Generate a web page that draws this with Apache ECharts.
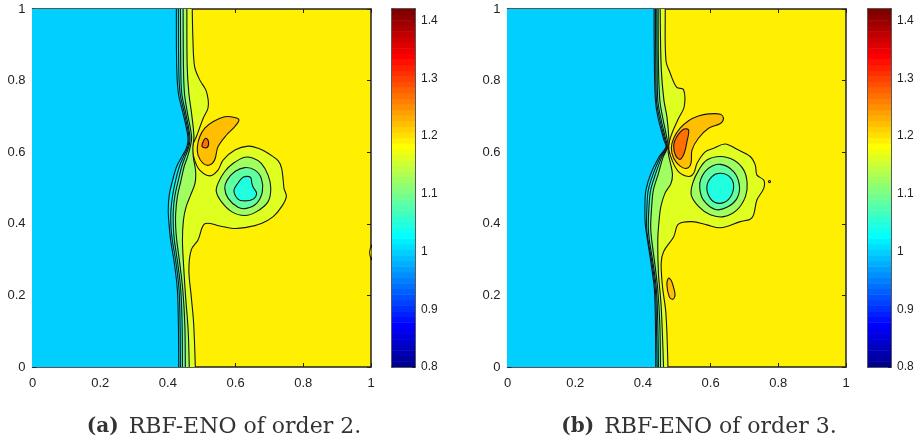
<!DOCTYPE html>
<html>
<head>
<meta charset="utf-8">
<title>RBF-ENO</title>
<style>
  html, body { margin: 0; padding: 0; background: #fff; }
  #chart { width: 921px; height: 440px; }
</style>
<script src="https://cdn.jsdelivr.net/npm/echarts@6/dist/echarts.min.js"></script>
</head>
<body>
<div id="chart"></div>
<script>
// contour levels as [x, y]
const aFront1 = [[.472,1],[.474,.913],[.479,.839],[.494,.802],[.512,.774],[.519,.746],[.518,.722],[.504,.694],[.484,.643],[.472,.615],[.479,.578],[.494,.55],[.524,.534],[.548,.55],[.563,.578],[.598,.606],[.637,.617],[.667,.611],[.696,.597],[.726,.576],[.736,.555],[.741,.518],[.743,.499],[.75,.476],[.736,.448],[.711,.42],[.676,.401],[.632,.39],[.593,.387],[.553,.394],[.509,.4],[.489,.355],[.469,.327],[.462,.271],[.469,.197],[.476,.122],[.481,0]]
const aFront2 = [[.456,1],[.457,.839],[.462,.764],[.47,.708],[.477,.643],[.474,.615],[.475,.587],[.482,.546],[.48,.513],[.467,.48],[.454,.448],[.446,.411],[.443,.355],[.446,.29],[.452,.2],[.46,.1],[.463,0]]
const aFront3 = [[.445,1],[.446,.839],[.449,.764],[.458,.708],[.47,.643],[.466,.615],[.458,.587],[.448,.56],[.438,.518],[.428,.476],[.423,.429],[.423,.392],[.426,.355],[.435,.29],[.444,.215],[.45,.12],[.4515,0]]
const aFront4 = [[.437,1],[.438,.839],[.441,.764],[.453,.708],[.465,.643],[.462,.615],[.451,.587],[.441,.56],[.431,.522],[.421,.48],[.416,.438],[.416,.392],[.419,.355],[.429,.29],[.438,.215],[.442,.12],[.443,0]]
const aFront5 = [[.431,1],[.432,.839],[.436,.764],[.449,.708],[.462,.643],[.459,.615],[.446,.587],[.434,.56],[.423,.522],[.414,.48],[.409,.438],[.409,.392],[.413,.355],[.424,.29],[.433,.215],[.436,.12],[.437,0]]
const aFront6 = [[.425,1],[.426,.839],[.431,.764],[.445,.708],[.459,.643],[.456,.615],[.441,.587],[.426,.56],[.414,.522],[.404,.48],[.401,.438],[.404,.392],[.408,.355],[.419,.29],[.428,.215],[.431,.12],[.432,0]]
const aOrange = [[.61,.69],[.597,.697],[.568,.699],[.533,.685],[.509,.667],[.494,.643],[.487,.615],[.489,.592],[.504,.569],[.523,.564],[.538,.578],[.548,.615],[.573,.648],[.597,.671]]
const aCore = [[.512,.639],[.502,.625],[.502,.615],[.516,.613],[.52,.629]]
const aVortex1 = [[.627,.586],[.593,.569],[.568,.546],[.548,.513],[.543,.49],[.558,.462],[.588,.434],[.627,.423],[.662,.434],[.696,.462],[.704,.499],[.696,.536],[.676,.569],[.652,.583]]
const aVortex2 = [[.627,.557],[.598,.546],[.575,.522],[.568,.499],[.578,.471],[.607,.446],[.632,.443],[.662,.457],[.679,.49],[.676,.527],[.657,.55]]
const aVortex3 = [[.622,.53],[.644,.53],[.648,.513],[.652,.502],[.662,.485],[.652,.469],[.627,.464],[.607,.469],[.595,.493],[.605,.511]]
const aEdge = [[1.002,.3],[.996,.32],[1.002,.34]]

const bFront1 = [[.466,1],[.468,.857],[.481,.82],[.5,.781],[.52,.775],[.522,.727],[.505,.694],[.486,.653],[.476,.615],[.486,.578],[.505,.546],[.535,.532],[.55,.541],[.56,.569],[.584,.601],[.609,.611],[.643,.623],[.678,.608],[.717,.588],[.732,.564],[.737,.536],[.757,.522],[.757,.499],[.737,.467],[.727,.425],[.717,.413],[.688,.406],[.629,.389],[.589,.397],[.545,.406],[.505,.399],[.491,.364],[.461,.322],[.454,.29],[.458,.224],[.468,.15],[.474,0]]
const bFront2 = [[.451,1],[.454,.839],[.462,.746],[.471,.699],[.477,.634],[.476,.615],[.475,.597],[.487,.541],[.483,.513],[.465,.485],[.453,.448],[.448,.411],[.444,.355],[.446,.262],[.454,.169],[.461,0]]
const bFront3 = [[.445,1],[.446,.839],[.45,.746],[.458,.699],[.472,.634],[.474,.615],[.46,.587],[.446,.541],[.431,.494],[.426,.448],[.423,.392],[.426,.355],[.435,.29],[.444,.215],[.45,.12],[.452,0]]
const bFront4 = [[.441,1],[.442,.839],[.444,.746],[.452,.699],[.468,.634],[.472,.615],[.456,.587],[.438,.541],[.423,.494],[.418,.448],[.416,.392],[.419,.355],[.43,.29],[.44,.215],[.444,.12],[.446,0]]
const bFront5 = [[.437,1],[.438,.839],[.44,.746],[.448,.699],[.465,.634],[.47,.615],[.452,.587],[.431,.541],[.416,.494],[.412,.448],[.411,.392],[.415,.355],[.427,.29],[.437,.215],[.44,.12],[.442,0]]
const bFront6 = [[.433,1],[.434,.839],[.437,.746],[.444,.699],[.462,.634],[.468,.615],[.448,.587],[.424,.541],[.409,.494],[.406,.448],[.407,.4],[.412,.364],[.424,.29],[.434,.215],[.437,.12],[.438,0]]
const bOrange = [[.638,.694],[.629,.706],[.594,.707],[.564,.701],[.535,.688],[.51,.667],[.491,.639],[.484,.611],[.491,.583],[.51,.561],[.53,.555],[.542,.569],[.545,.606],[.564,.639],[.594,.667],[.629,.68]]
const bCore = [[.535,.662],[.52,.664],[.5,.643],[.491,.62],[.496,.592],[.51,.58],[.522,.597],[.53,.629]]
const bSmall = [[.476,.248],[.471,.229],[.478,.196],[.488,.189],[.495,.201],[.49,.224],[.484,.241]]
const bSpeck = [[.771,.518],[.774,.521],[.777,.518],[.774,.515]]
const bVortex1 = [[.629,.588],[.589,.578],[.565,.55],[.547,.513],[.543,.48],[.565,.448],[.599,.425],[.639,.42],[.678,.439],[.703,.476],[.708,.513],[.698,.55],[.668,.578]]
const bVortex2 = [[.629,.566],[.594,.555],[.572,.527],[.568,.499],[.579,.466],[.614,.44],[.648,.446],[.678,.471],[.685,.508],[.668,.546]]
const bVortex3 = [[.629,.541],[.604,.532],[.589,.504],[.599,.471],[.624,.457],[.653,.468],[.668,.502],[.658,.53]]

const axisTicks = [0, 0.2, 0.4, 0.6, 0.8, 1]
const barTicks = [0.8, 0.9, 1, 1.1, 1.2, 1.3, 1.4]
const barEdges = [.8,.8097,.8194,.8291,.8388,.8484,.8581,.8678,.8775,.8872,.8969,.9066,.9163,.9259,.9356,.9453,.955,.9647,.9744,.9841,.9938,1.0034,1.0131,1.0228,1.0325,1.0422,1.0519,1.0616,1.0713,1.0809,1.0906,1.1003,1.11,1.1197,1.1294,1.1391,1.1488,1.1584,1.1681,1.1778,1.1875,1.1972,1.2069,1.2166,1.2263,1.2359,1.2456,1.2553,1.265,1.2747,1.2844,1.2941,1.3038,1.3134,1.3231,1.3328,1.3425,1.3522,1.3619,1.3716,1.3813,1.3909,1.4006,1.4103,1.42]
const barColors = ['#000090','#0000a0','#0000b0','#0000bf','#0000cf','#0000df','#0000ef','#0000ff','#0010ff','#0020ff','#0030ff','#0040ff','#0050ff','#0060ff','#0070ff','#0080ff','#008fff','#009fff','#00afff','#00bfff','#00cfff','#00dfff','#00efff','#00ffff','#10ffef','#20ffdf','#30ffcf','#40ffbf','#50ffaf','#60ff9f','#70ff8f','#80ff80','#8fff70','#9fff60','#afff50','#bfff40','#cfff30','#dfff20','#efff10','#ffff00','#ffef00','#ffdf00','#ffcf00','#ffbf00','#ffaf00','#ff9f00','#ff8f00','#ff8000','#ff7000','#ff6000','#ff5000','#ff4000','#ff3000','#ff2000','#ff1000','#ff0000','#ef0000','#df0000','#cf0000','#bf0000','#af0000','#9f0000','#8f0000','#800000']

const cBlue = '#00cfff', cCyan = '#00f4ff', cTeal = '#20ffdf', cMint = '#60ff9f', cGreen = '#9fff60',
  cLime = '#dfff20', cYellow = '#ffef00', cOrange = '#ffbf00', cDark = '#ff7000'
const lineColor = '#141414'

// a front is filled from the left edge of the box up to the line
const panelA = [
  { pts: aFront1, fill: cLime, front: true },
  { pts: aFront2, fill: cGreen, front: true },
  { pts: aFront3, fill: cMint, front: true },
  { pts: aFront4, fill: cTeal, front: true },
  { pts: aFront5, fill: cCyan, front: true },
  { pts: aFront6, fill: cBlue, front: true },
  { pts: aOrange, fill: cOrange },
  { pts: aCore, fill: cDark },
  { pts: aVortex1, fill: cGreen },
  { pts: aVortex2, fill: cMint },
  { pts: aVortex3, fill: cTeal },
  { pts: aEdge, fill: cYellow }
]
const panelB = [
  { pts: bFront1, fill: cLime, front: true },
  { pts: bFront2, fill: cGreen, front: true },
  { pts: bFront3, fill: cMint, front: true },
  { pts: bFront4, fill: cTeal, front: true },
  { pts: bFront5, fill: cCyan, front: true },
  { pts: bFront6, fill: cBlue, front: true },
  { pts: bOrange, fill: cOrange },
  { pts: bCore, fill: cDark },
  { pts: bSmall, fill: cOrange },
  { pts: bSpeck, fill: cYellow },
  { pts: bVortex1, fill: cGreen },
  { pts: bVortex2, fill: cMint },
  { pts: bVortex3, fill: cTeal }
]

const grids = [
  { left: 32.5, top: 9, width: 338.5, height: 358 },
  { left: 392, top: 9, width: 23, height: 358 },
  { left: 507.5, top: 9, width: 338.5, height: 358 },
  { left: 868, top: 9, width: 23, height: 358 }
]
const labelStyle = { color: '#222', fontSize: 13, fontFamily: 'Liberation Sans' }
const boxLine = { show: true, onZero: false, lineStyle: { color: '#222', width: 1.5 } }

function boxAxes(gridIndex) {
  const base = { type: 'value', gridIndex, min: 0, max: 1, splitLine: { show: false } }
  const ticks = { show: true, inside: true, length: 4, customValues: axisTicks, lineStyle: { color: '#222' } }
  return {
    x: [
      { ...base, position: 'bottom', axisLine: boxLine, axisTick: ticks, axisLabel: { ...labelStyle, margin: 10, customValues: axisTicks } },
      { ...base, position: 'top', axisLine: boxLine, axisTick: ticks, axisLabel: { show: false } }
    ],
    y: [
      { ...base, position: 'left', axisLine: boxLine, axisTick: ticks, axisLabel: { ...labelStyle, margin: 7, customValues: axisTicks } },
      { ...base, position: 'right', axisLine: boxLine, axisTick: ticks, axisLabel: { show: false } }
    ]
  }
}

function barAxes(gridIndex) {
  return {
    x: [{ type: 'value', gridIndex, min: 0, max: 1, position: 'bottom', axisLine: boxLine, axisTick: { show: false }, axisLabel: { show: false }, splitLine: { show: false } },
        { type: 'value', gridIndex, min: 0, max: 1, position: 'top', axisLine: boxLine, axisTick: { show: false }, axisLabel: { show: false }, splitLine: { show: false } }],
    y: [{ type: 'value', gridIndex, min: 0.8, max: 1.42, position: 'left', axisLine: boxLine, axisTick: { show: false }, axisLabel: { show: false }, splitLine: { show: false } },
        { type: 'value', gridIndex, min: 0.8, max: 1.42, position: 'right', axisLine: boxLine, splitLine: { show: false },
          axisTick: { show: true, inside: true, length: 3, customValues: barTicks, lineStyle: { color: '#222' } },
          axisLabel: { ...labelStyle, fontSize: 12, margin: 6, customValues: barTicks } }]
  }
}

const xAxes = [], yAxes = [], series = []

function addContours(gridIndex, contours) {
  const axes = boxAxes(gridIndex)
  const xi = xAxes.length, yi = yAxes.length
  xAxes.push(...axes.x)
  yAxes.push(...axes.y)
  series.push({
    type: 'custom', xAxisIndex: xi, yAxisIndex: yi, silent: true, z: 1, clip: true,
    data: contours.map((c, i) => [i]),
    renderItem(params, api) {
      const c = contours[api.value(0)]
      const line = c.pts.map(p => api.coord(p))
      if (!c.front) {
        return { type: 'polygon', shape: { points: line, smooth: 0.35 }, style: { fill: c.fill, stroke: lineColor, lineWidth: 1.1 } }
      }
      const top = api.coord([c.pts[0][0], 1.05]), bottom = api.coord([c.pts[c.pts.length - 1][0], -0.05])
      const leftTop = api.coord([-0.2, 1.05]), leftBottom = api.coord([-0.2, -0.05])
      const outline = [top].concat(line, [bottom])
      return {
        type: 'group',
        children: [
          { type: 'polygon', shape: { points: outline.concat([leftBottom, leftTop]), smooth: 0.35 }, style: { fill: c.fill, stroke: null } },
          { type: 'polyline', shape: { points: outline, smooth: 0.35 }, style: { fill: null, stroke: lineColor, lineWidth: 1.1 } }
        ]
      }
    }
  })
}

function addBar(gridIndex) {
  const axes = barAxes(gridIndex)
  const xi = xAxes.length, yi = yAxes.length
  xAxes.push(...axes.x)
  yAxes.push(...axes.y)
  series.push({
    type: 'custom', xAxisIndex: xi, yAxisIndex: yi, silent: true, z: 1, clip: true,
    data: barColors.map((c, i) => [i]),
    renderItem(params, api) {
      const i = api.value(0)
      const a = api.coord([0, barEdges[i + 1]]), b = api.coord([1, barEdges[i]])
      return { type: 'rect', shape: { x: a[0], y: a[1], width: b[0] - a[0], height: b[1] - a[1] + 0.5 }, style: { fill: barColors[i] } }
    }
  })
}

addContours(0, panelA)
addBar(1)
addContours(2, panelB)
addBar(3)

const captionRich = {
  b: { fontFamily: 'DejaVu Serif', fontWeight: 'bold', fontSize: 20, color: '#333' },
  n: { fontFamily: 'DejaVu Serif', fontWeight: 'normal', fontSize: 22, color: '#333' }
}

const chart = echarts.init(document.getElementById('chart'), null, { renderer: 'canvas' })
chart.setOption({
  animation: false,
  backgroundColor: '#fff',
  grid: grids.map((g, i) => ({ ...g, show: i % 2 === 0, backgroundColor: cYellow, borderWidth: 0 })),
  xAxis: xAxes,
  yAxis: yAxes,
  series,
  title: [
    { left: 219, top: 411, textAlign: 'center', text: '{b|(a)}  {n|RBF-ENO of order 2.}', textStyle: { rich: captionRich } },
    { left: 694, top: 411, textAlign: 'center', text: '{b|(b)}  {n|RBF-ENO of order 3.}', textStyle: { rich: captionRich } }
  ]
})
</script>
</body>
</html>
